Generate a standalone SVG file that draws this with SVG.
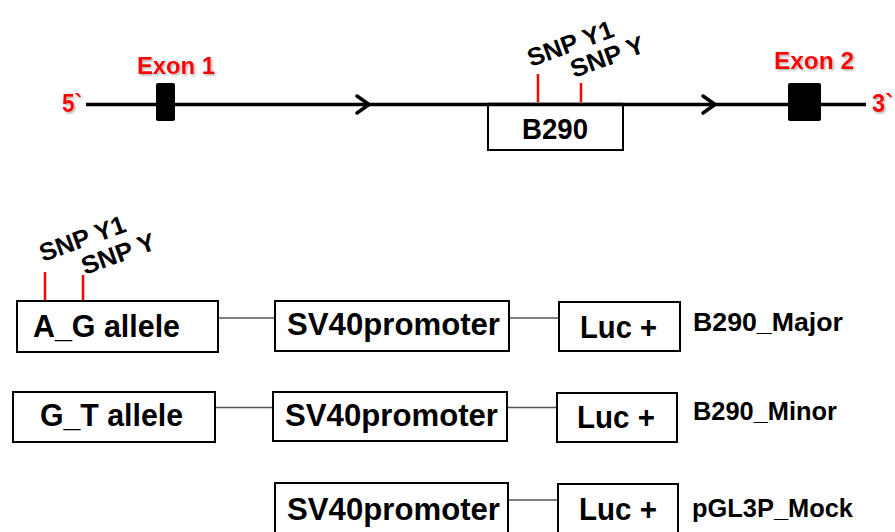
<svg xmlns="http://www.w3.org/2000/svg" width="895" height="532" viewBox="0 0 895 532">
<defs>
<style>
.t{font-family:"Liberation Sans",Arial,sans-serif;font-weight:bold;fill:#000}
.red{fill:#ff0000;filter:url(#sh)}
.box{fill:#fff;stroke:#000;stroke-width:2}
.conn{stroke:#555;stroke-width:1.3;fill:none}
.snp{stroke:#ff0000;stroke-width:2.5}
.big{font-size:31px}
.lab{font-size:25px}
.s{font-size:25px}
</style>
<filter id="sh" x="-10%" y="-10%" width="130%" height="140%">
<feDropShadow dx="1.5" dy="1.5" stdDeviation="0.8" flood-color="#777" flood-opacity="0.6"/>
</filter>
</defs>

<g id="gene">
<line x1="86" y1="104.5" x2="866" y2="104.5" stroke="#000" stroke-width="3.5"/>
<polyline points="357,96 369,104.5 357,113" fill="none" stroke="#000" stroke-width="3.5" stroke-linecap="round" stroke-linejoin="round"/>
<polyline points="703,96 715,104.5 703,113" fill="none" stroke="#000" stroke-width="3.5" stroke-linecap="round" stroke-linejoin="round"/>
<text class="t red" x="62" y="112" font-size="25" textLength="20" lengthAdjust="spacingAndGlyphs">5`</text>
<text class="t red" x="872" y="112" font-size="25" textLength="21" lengthAdjust="spacingAndGlyphs">3`</text>
</g>

<g id="exon1">
<rect x="156" y="83" width="19" height="38" rx="2" fill="#000"/>
<text class="t red" x="137" y="74" font-size="24" textLength="78" lengthAdjust="spacingAndGlyphs">Exon 1</text>
</g>

<g id="exon2">
<rect x="788" y="83" width="33" height="38" rx="2" fill="#000"/>
<text class="t red" x="774" y="69" font-size="24" textLength="80" lengthAdjust="spacingAndGlyphs">Exon 2</text>
</g>

<g id="b290">
<rect class="box" x="488" y="105" width="135" height="45"/>
<line x1="488" y1="104.5" x2="623" y2="104.5" stroke="#000" stroke-width="3.5"/>
<text class="t" x="522" y="139" font-size="29" textLength="66" lengthAdjust="spacingAndGlyphs">B290</text>
</g>

<g id="snp-top">
<line class="snp" x1="538" y1="74" x2="538" y2="102"/>
<line class="snp" x1="581" y1="83" x2="581" y2="102"/>
<text class="t s" x="531" y="67" transform="rotate(-20 531 67)" textLength="90" lengthAdjust="spacingAndGlyphs">SNP Y1</text>
<text class="t s" x="574" y="78" transform="rotate(-20 574 78)" textLength="77" lengthAdjust="spacingAndGlyphs">SNP Y</text>
</g>

<g id="connectors">
<line class="conn" x1="218" y1="318" x2="275" y2="318"/>
<line class="conn" x1="509" y1="318" x2="559" y2="318"/>
<line class="conn" x1="215" y1="407.5" x2="273" y2="407.5"/>
<line class="conn" x1="507" y1="407.5" x2="557" y2="407.5"/>
<line class="conn" x1="508" y1="500" x2="558" y2="500"/>
</g>

<g id="snp-bottom">
<line class="snp" x1="45" y1="272" x2="45" y2="300"/>
<line class="snp" x1="83" y1="275" x2="83" y2="300"/>
<text class="t s" x="43" y="262" transform="rotate(-20 43 262)" textLength="90" lengthAdjust="spacingAndGlyphs">SNP Y1</text>
<text class="t s" x="85" y="275" transform="rotate(-20 85 275)" textLength="77" lengthAdjust="spacingAndGlyphs">SNP Y</text>
</g>

<g id="ag-allele">
<rect class="box" x="17" y="301" width="201" height="51"/>
<text class="t big" x="33" y="337" textLength="147" lengthAdjust="spacingAndGlyphs">A_G allele</text>
</g>
<g id="sv40-1">
<rect class="box" x="275" y="301" width="234" height="50"/>
<text class="t big" x="287" y="335" textLength="213" lengthAdjust="spacingAndGlyphs">SV40promoter</text>
</g>
<g id="luc-1">
<rect class="box" x="559" y="302" width="121" height="49"/>
<text class="t big" x="580" y="338" textLength="77" lengthAdjust="spacingAndGlyphs">Luc +</text>
</g>
<text id="label-major" class="t lab" x="693" y="331" textLength="150" lengthAdjust="spacingAndGlyphs">B290_Major</text>

<g id="gt-allele">
<rect class="box" x="13" y="392" width="202" height="50"/>
<text class="t big" x="40" y="426" textLength="143" lengthAdjust="spacingAndGlyphs">G_T allele</text>
</g>
<g id="sv40-2">
<rect class="box" x="273" y="392" width="234" height="49"/>
<text class="t big" x="285" y="426" textLength="213" lengthAdjust="spacingAndGlyphs">SV40promoter</text>
</g>
<g id="luc-2">
<rect class="box" x="557" y="393" width="120" height="49"/>
<text class="t big" x="577" y="428" textLength="78" lengthAdjust="spacingAndGlyphs">Luc +</text>
</g>
<text id="label-minor" class="t lab" x="693" y="420" textLength="144" lengthAdjust="spacingAndGlyphs">B290_Minor</text>

<g id="sv40-3">
<rect class="box" x="275" y="483" width="233" height="55"/>
<text class="t big" x="287" y="520" textLength="213" lengthAdjust="spacingAndGlyphs">SV40promoter</text>
</g>
<g id="luc-3">
<rect class="box" x="558" y="484" width="120" height="54"/>
<text class="t big" x="579" y="520" textLength="78" lengthAdjust="spacingAndGlyphs">Luc +</text>
</g>
<text id="label-mock" class="t lab" x="692" y="517" textLength="161" lengthAdjust="spacingAndGlyphs">pGL3P_Mock</text>
</svg>
